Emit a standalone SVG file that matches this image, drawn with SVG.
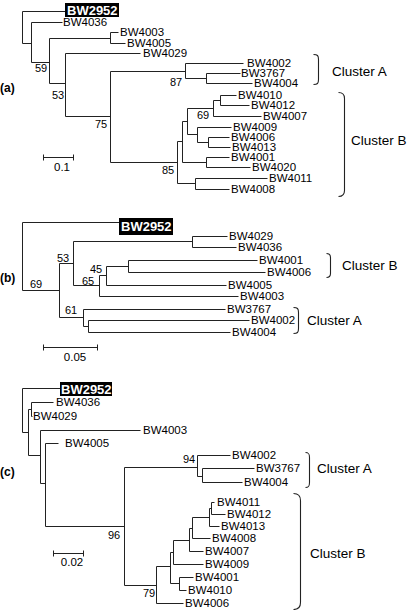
<svg xmlns="http://www.w3.org/2000/svg" width="408" height="610" viewBox="0 0 408 610">
<style>
.e{fill:none;stroke:#222;stroke-width:1}
.br{fill:none;stroke:#222;stroke-width:1.1}
text{font-family:"Liberation Sans",Arial,sans-serif;fill:#000}
.l{font-size:11.5px}
.b{font-size:11px}
.c{font-size:13.5px}
.p{font-size:12px;font-weight:bold}
.h{font-size:13px;font-weight:bold;fill:#fff}
.s{font-size:11.5px;text-anchor:middle}
</style>
<rect width="408" height="610" fill="#fff"/>
<g id="connectors" transform="translate(0.5,0.5)">
<!-- tree a -->
<path class="e" d="M22,11V43M22,11H65M22,43H31M31,22V62M31,22H62M31,62H49M49,38V83M49,38H110M49,83H65M110,32V43M110,32H118M110,43H125M65,53V116M65,53H140M65,116H110M110,71V162M110,71H185M110,162H177M185,63V78M185,63H243M185,78H206M206,73V83M206,73H240M206,83H252M177,141V183M177,141H182M177,183H195M182,121V162M182,121H187M182,162H206M187,108V134M187,108H213M187,134H197M213,100V116M213,100H220M213,116H261M220,95V105M220,95H236M220,105H249M197,127V142M197,127H231M197,142H208M208,137V147M208,137H229M208,147H230M206,157V167M206,157H229M206,167H250M195,178V189M195,178H267M195,189H229"/>
<path class="e" d="M43,154V160M43,157H73M73,154V160"/>
<!-- tree b -->
<path class="e" d="M22,222V290M22,222H119M22,290H59M59,263V317M59,263H73M59,317H83M73,241V285M73,241H192M73,285H99M192,236V247M192,236H227M192,247H236M99,275V296M99,275H106M99,296H238M106,266V285M106,266H128M106,285H226M128,260V272M128,260H257M128,272H265M83,309V326M83,309H225M83,326H88M88,320V332M88,320H249M88,332H230"/>
<path class="e" d="M43,344V350M43,347H97M97,344V350"/>
<!-- tree c -->
<path class="e" d="M22,388V432M22,388H60M22,432H28M28,409V455M28,409H31M28,455H40M31,402V416M31,402H53M31,416H32M40,430V483M40,430H140M40,483H45M45,443V526M45,443H58M45,526H124M124,467V585M124,467H197M124,585H156M197,455V476M197,455H230M197,476H202M202,468V482M202,468H254M202,482H242M156,566V603M156,566H170M156,603H183M170,552V583M170,552H173M170,583H179M179,577V590M179,577H193M179,590H186M173,540V564M173,540H189M173,564H203M189,528V551M189,528H192M189,551H203M192,517V538M192,517H209M192,538H210M209,508V526M209,508H211M209,526H219M211,502V514M211,502H214M211,514H225"/>
<path class="e" d="M53,550V556M53,553H83M83,550V556"/>
<!-- brackets -->
<path class="br" d="M313,54C317,54 318,55 318,59V79C318,83 317,84 313,84"/>
<path class="br" d="M338,92C342,92 344,94 344,98V190C344,194 342,196 338,196"/>
<path class="br" d="M326,253C329,253 330,254 330,257V273C330,276 329,277 326,277"/>
<path class="br" d="M293,307C297,307 298,308 298,312V328C298,332 297,333 293,333"/>
<path class="br" d="M305,452C308,452 309,453 309,457V482C309,486 308,487 305,487"/>
<path class="br" d="M293,493C298,493 300,495 300,500V602C300,607 298,609 293,609"/>
</g>
<!-- panel labels -->
<text class="p" x="0" y="92">(a)</text>
<text class="p" x="0" y="282">(b)</text>
<text class="p" x="0" y="476">(c)</text>
<!-- scale labels -->
<text class="s" x="62" y="171">0.1</text>
<text class="s" x="75" y="361">0.05</text>
<text class="s" x="72" y="566">0.02</text>
<!-- bootstrap values -->
<g id="bootstrap">
<text class="b" x="35" y="72">59</text>
<text class="b" x="52" y="99">53</text>
<text class="b" x="95" y="128">75</text>
<text class="b" x="170" y="86">87</text>
<text class="b" x="197" y="119">69</text>
<text class="b" x="162" y="174">85</text>
<text class="b" x="30" y="288">69</text>
<text class="b" x="57" y="262">53</text>
<text class="b" x="82" y="285">65</text>
<text class="b" x="90" y="273">45</text>
<text class="b" x="65" y="314">61</text>
<text class="b" x="183" y="463">94</text>
<text class="b" x="108" y="539">96</text>
<text class="b" x="143" y="597">79</text>
</g>
<!-- cluster labels -->
<g id="clusterA_a"><text class="c" x="332" y="76">Cluster A</text></g>
<g id="clusterB_a"><text class="c" x="351" y="145">Cluster B</text></g>
<g id="clusterB_b"><text class="c" x="342" y="270">Cluster B</text></g>
<g id="clusterA_b"><text class="c" x="307" y="325">Cluster A</text></g>
<g id="clusterA_c"><text class="c" x="317" y="473">Cluster A</text></g>
<g id="clusterB_c"><text class="c" x="310" y="558">Cluster B</text></g>
<!-- tree a leaves -->
<g id="a_BW2952"><rect x="65" y="3" width="54" height="14" fill="#000"/><text class="h" x="67" y="15">BW2952</text></g>
<g id="a_BW4036"><text class="l" x="63" y="26">BW4036</text></g>
<g id="a_BW4003"><text class="l" x="120" y="36">BW4003</text></g>
<g id="a_BW4005"><text class="l" x="127" y="47">BW4005</text></g>
<g id="a_BW4029"><text class="l" x="143" y="57">BW4029</text></g>
<g id="a_BW4002"><text class="l" x="247" y="67">BW4002</text></g>
<g id="a_BW3767"><text class="l" x="241" y="77">BW3767</text></g>
<g id="a_BW4004"><text class="l" x="254" y="87">BW4004</text></g>
<g id="a_BW4010"><text class="l" x="238" y="99">BW4010</text></g>
<g id="a_BW4012"><text class="l" x="251" y="109">BW4012</text></g>
<g id="a_BW4007"><text class="l" x="263" y="120">BW4007</text></g>
<g id="a_BW4009"><text class="l" x="233" y="131">BW4009</text></g>
<g id="a_BW4006"><text class="l" x="231" y="141">BW4006</text></g>
<g id="a_BW4013"><text class="l" x="232" y="151">BW4013</text></g>
<g id="a_BW4001"><text class="l" x="231" y="161">BW4001</text></g>
<g id="a_BW4020"><text class="l" x="252" y="171">BW4020</text></g>
<g id="a_BW4011"><text class="l" x="269" y="182">BW4011</text></g>
<g id="a_BW4008"><text class="l" x="231" y="193">BW4008</text></g>
<!-- tree b leaves -->
<g id="b_BW2952"><rect x="119" y="218" width="54" height="17" fill="#000"/><text class="h" x="121" y="231">BW2952</text></g>
<g id="b_BW4029"><text class="l" x="229" y="240">BW4029</text></g>
<g id="b_BW4036"><text class="l" x="238" y="251">BW4036</text></g>
<g id="b_BW4001"><text class="l" x="259" y="264">BW4001</text></g>
<g id="b_BW4006"><text class="l" x="267" y="276">BW4006</text></g>
<g id="b_BW4005"><text class="l" x="228" y="289">BW4005</text></g>
<g id="b_BW4003"><text class="l" x="240" y="300">BW4003</text></g>
<g id="b_BW3767"><text class="l" x="227" y="313">BW3767</text></g>
<g id="b_BW4002"><text class="l" x="251" y="324">BW4002</text></g>
<g id="b_BW4004"><text class="l" x="232" y="336">BW4004</text></g>
<!-- tree c leaves -->
<g id="c_BW2952"><rect x="60" y="382" width="52" height="14" fill="#000"/><text class="h" x="61" y="394">BW2952</text></g>
<g id="c_BW4036"><text class="l" x="56" y="406">BW4036</text></g>
<g id="c_BW4029"><text class="l" x="33" y="420">BW4029</text></g>
<g id="c_BW4003"><text class="l" x="143" y="434">BW4003</text></g>
<g id="c_BW4005"><text class="l" x="65" y="447">BW4005</text></g>
<g id="c_BW4002"><text class="l" x="232" y="459">BW4002</text></g>
<g id="c_BW3767"><text class="l" x="256" y="472">BW3767</text></g>
<g id="c_BW4004"><text class="l" x="244" y="486">BW4004</text></g>
<g id="c_BW4011"><text class="l" x="217" y="506">BW4011</text></g>
<g id="c_BW4012"><text class="l" x="227" y="518">BW4012</text></g>
<g id="c_BW4013"><text class="l" x="221" y="530">BW4013</text></g>
<g id="c_BW4008"><text class="l" x="212" y="542">BW4008</text></g>
<g id="c_BW4007"><text class="l" x="205" y="555">BW4007</text></g>
<g id="c_BW4009"><text class="l" x="205" y="568">BW4009</text></g>
<g id="c_BW4001"><text class="l" x="195" y="581">BW4001</text></g>
<g id="c_BW4010"><text class="l" x="188" y="594">BW4010</text></g>
<g id="c_BW4006"><text class="l" x="185" y="607">BW4006</text></g>
</svg>
